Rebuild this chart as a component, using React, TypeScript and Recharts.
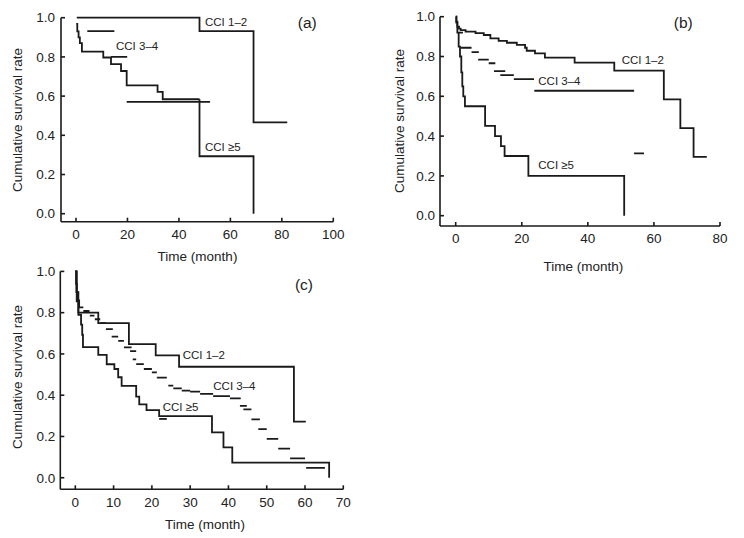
import React from 'react';
import { LineChart, Line, XAxis, YAxis } from 'recharts';

type Seg = [number, number, number];

// ---------- shared ticks ----------
const yTicks = [0, 0.2, 0.4, 0.6, 0.8, 1.0];
const xTicksA = [0, 20, 40, 60, 80, 100];
const xTicksB = [0, 20, 40, 60, 80];
const xTicksC = [0, 10, 20, 30, 40, 50, 60, 70];

// ---------- panel (a) ----------
const aCci12Time = [0.3, 48, 69, 82.1];
const aCci12Surv = [1.0, 0.932, 0.466, 0.466];
const aCci34Time = [0.1, 0.5, 1.0, 1.5, 2.3, 10.6, 13.6, 17.5, 19.7, 31.7, 33.7, 48];
const aCci34Surv = [0.968, 0.93, 0.9, 0.87, 0.827, 0.797, 0.763, 0.728, 0.655, 0.622, 0.584, 0.584];
const aCci5Time = [48, 48, 69];
const aCci5Surv = [0.584, 0.293, 0];
const aCci5Segs: Seg[] = [[4.4, 14.9, 0.932], [13.6, 19.9, 0.8], [19.7, 52.1, 0.571]];

// ---------- panel (b) ----------
const bCci12Time = [0, 0.2, 0.5, 1.0, 1.5, 3, 6, 8.5, 10.5, 13, 15.5, 18.5, 21, 21.5, 24, 27, 36, 48, 63, 68, 72, 76];
const bCci12Surv = [1.0, 0.97, 0.95, 0.94, 0.933, 0.925, 0.917, 0.908, 0.891, 0.879, 0.869, 0.858, 0.844, 0.829, 0.816, 0.794, 0.769, 0.729, 0.585, 0.44, 0.296, 0.296];
const bCci34Segs: Seg[] = [
  [1.0, 2.2, 0.92], [1.5, 4.8, 0.844], [4.8, 7.0, 0.822], [6.8, 10.0, 0.784], [10.0, 12.0, 0.766],
  [11.6, 15.0, 0.727], [13.5, 17.6, 0.706], [17.6, 23.7, 0.686], [23.8, 54, 0.628], [54, 57, 0.313],
];
const bCci5Time = [0, 0.2, 0.5, 0.9, 1.3, 1.7, 2.0, 2.3, 2.8, 8.9, 11.9, 13.7, 14.8, 22, 51];
const bCci5Surv = [1.0, 0.975, 0.92, 0.85, 0.8, 0.72, 0.65, 0.6, 0.55, 0.451, 0.4, 0.35, 0.3, 0.2, 0];

// ---------- panel (c) ----------
const cCci12Time = [0, 0.3, 0.8, 6, 14, 21, 27.1, 57.1, 60.2];
const cCci12Surv = [1.0, 0.9, 0.8, 0.749, 0.648, 0.593, 0.538, 0.272, 0.272];
const cCci34Time = [0, 0.2, 0.4, 0.7, 1.0, 2.1];
const cCci34Surv = [1.0, 0.94, 0.9, 0.86, 0.826, 0.826];
const cCci34Segs: Seg[] = [
  [2.1, 3.7, 0.808], [3.8, 5.0, 0.786], [5.1, 6.5, 0.768], [6.5, 8.0, 0.749], [8.0, 9.8, 0.72],
  [9.5, 11.2, 0.684], [11.2, 12.7, 0.663], [12.7, 14.7, 0.632], [14.3, 15.9, 0.614], [15.0, 15.9, 0.574],
  [15.9, 17.9, 0.551], [17.9, 20.0, 0.527], [20.0, 21.3, 0.511], [21.3, 23.9, 0.485], [24.3, 25.6, 0.446],
  [25.6, 27.8, 0.433], [27.8, 30.0, 0.422], [30.0, 32.6, 0.417], [32.6, 36.0, 0.406], [36.0, 40.4, 0.396],
  [40.4, 43.2, 0.385], [43.0, 44.8, 0.348], [43.9, 46.0, 0.331], [46.0, 48.2, 0.283], [47.8, 50.0, 0.236],
  [50.0, 53.0, 0.188], [53.0, 56.1, 0.141], [56.1, 60.0, 0.094], [60.3, 65.2, 0.048],
];
const cCci5Time = [0, 0.37, 0.8, 1.5, 1.8, 2.0, 6, 8.2, 10.2, 11.2, 12.1, 15.9, 16.7, 18.6, 21.9, 35.7, 38.7, 41, 66.3];
const cCci5Surv = [1.0, 0.855, 0.79, 0.742, 0.693, 0.633, 0.595, 0.55, 0.527, 0.487, 0.445, 0.393, 0.356, 0.328, 0.299, 0.22, 0.147, 0.073, 0];
const cCci5Segs: Seg[] = [[21.9, 23.9, 0.285]];

// ---------- helpers ----------
const steps = (ts: number[], vs: number[]) => ts.map((t, i) => ({ t, v: vs[i] }));
const segs = (s: Seg[]) =>
  s.flatMap(([a, b, v]) => [{ t: a, v }, { t: b, v }, { t: b, v: null as number | null }]);

const INK = '#1a1a1a';
const FONT = '"Liberation Sans", Arial, Helvetica, sans-serif';

type PanelProps = {
  width: number;
  height: number;
  top: number;
  right: number;
  yAxisW: number;
  xAxisH: number;
  xDomain: [number, number];
  yMin: number;
  xTicks: number[];
  xTickMargin: number;
  yTickMargin: number;
  stepSeries: { t: number; v: number | null }[][];
  segSeries: { t: number; v: number | null }[][];
};

function Panel(p: PanelProps) {
  const tickStyle = { fill: '#222', fontSize: 13.5, fontFamily: FONT };
  const axisLine = { stroke: INK, strokeWidth: 1.6 };
  return (
    <LineChart width={p.width} height={p.height} margin={{ top: p.top, right: p.right, bottom: 0, left: 0 }}>
      <XAxis
        type="number"
        dataKey="t"
        domain={p.xDomain}
        ticks={p.xTicks}
        interval={0}
        height={p.xAxisH}
        tickSize={-4}
        tickMargin={p.xTickMargin}
        axisLine={axisLine}
        tickLine={axisLine}
        tick={tickStyle}
      />
      <YAxis
        type="number"
        dataKey="v"
        domain={[p.yMin, 1]}
        ticks={yTicks}
        interval={0}
        width={p.yAxisW}
        tickSize={-4}
        tickMargin={p.yTickMargin}
        axisLine={axisLine}
        tickLine={axisLine}
        tick={tickStyle}
        tickFormatter={(v: number) => v.toFixed(1)}
      />
      {p.stepSeries.map((d, i) => (
        <Line
          key={'s' + i}
          data={d}
          dataKey="v"
          type="stepAfter"
          stroke={INK}
          strokeWidth={1.8}
          dot={false}
          activeDot={false}
          isAnimationActive={false}
        />
      ))}
      {p.segSeries.map((d, i) => (
        <Line
          key={'g' + i}
          data={d}
          dataKey="v"
          type="linear"
          connectNulls={false}
          stroke={INK}
          strokeWidth={1.8}
          dot={false}
          activeDot={false}
          isAnimationActive={false}
        />
      ))}
    </LineChart>
  );
}

function Txt({ x, y, size, children, center }: { x: number; y: number; size: number; children: React.ReactNode; center?: boolean }) {
  return (
    <div
      style={{
        position: 'absolute',
        left: x,
        top: y,
        transform: center ? 'translate(-50%, -50%)' : 'translateY(-50%)',
        fontSize: size,
        lineHeight: 1,
        whiteSpace: 'nowrap',
        color: '#222',
      }}
    >
      {children}
    </div>
  );
}

function VTxt({ x, y, size, children }: { x: number; y: number; size: number; children: React.ReactNode }) {
  return (
    <div
      style={{
        position: 'absolute',
        left: x,
        top: y,
        transform: 'translate(-50%, -50%) rotate(-90deg)',
        fontSize: size,
        lineHeight: 1,
        whiteSpace: 'nowrap',
        color: '#222',
      }}
    >
      {children}
    </div>
  );
}

export default function App() {
  return (
    <div
      style={{
        position: 'absolute',
        left: 0,
        top: 0,
        width: 744,
        height: 538,
        background: '#fff',
        fontFamily: FONT,
        overflow: 'hidden',
      }}
    >
      <div style={{ position: 'absolute', left: 0, top: 0 }}>
        <Panel
          width={370}
          height={280}
          top={17.7}
          right={36.7}
          yAxisW={61}
          xAxisH={58.3}
          xDomain={[-5.83, 100]}
          yMin={-0.0408}
          xTicks={xTicksA}
          xTickMargin={12}
          yTickMargin={10}
          stepSeries={[steps(aCci12Time, aCci12Surv), steps(aCci34Time, aCci34Surv), steps(aCci5Time, aCci5Surv)]}
          segSeries={[segs(aCci5Segs)]}
        />
      </div>
      <div style={{ position: 'absolute', left: 370, top: 0 }}>
        <Panel
          width={374}
          height={280}
          top={16.7}
          right={24}
          yAxisW={70}
          xAxisH={54}
          xDomain={[-4.75, 80]}
          yMin={-0.0518}
          xTicks={xTicksB}
          xTickMargin={11}
          yTickMargin={9}
          stepSeries={[steps(bCci12Time, bCci12Surv), steps(bCci5Time, bCci5Surv)]}
          segSeries={[segs(bCci34Segs)]}
        />
      </div>
      <div style={{ position: 'absolute', left: 0, top: 260 }}>
        <Panel
          width={370}
          height={278}
          top={11.4}
          right={26.7}
          yAxisW={60.3}
          xAxisH={48.7}
          xDomain={[-3.92, 70]}
          yMin={-0.056}
          xTicks={xTicksC}
          xTickMargin={12.5}
          yTickMargin={9}
          stepSeries={[steps(cCci12Time, cCci12Surv), steps(cCci34Time, cCci34Surv), steps(cCci5Time, cCci5Surv)]}
          segSeries={[segs(cCci34Segs), segs(cCci5Segs)]}
        />
      </div>

      {/* panel (a) annotations */}
      <Txt x={205} y={23.3} size={11.5}>CCI 1–2</Txt>
      <Txt x={116} y={47.3} size={11.5}>CCI 3–4</Txt>
      <Txt x={205} y={148.3} size={11.5}>CCI ≥5</Txt>
      <Txt x={307.3} y={23.3} size={15.5} center>(a)</Txt>
      <Txt x={197.5} y={256.7} size={13.5} center>Time (month)</Txt>
      <VTxt x={18.3} y={120} size={13.5}>Cumulative survival rate</VTxt>

      {/* panel (b) annotations */}
      <Txt x={621.7} y={61} size={11.5}>CCI 1–2</Txt>
      <Txt x={538.3} y={81.7} size={11.5}>CCI 3–4</Txt>
      <Txt x={538.3} y={165.7} size={11.5}>CCI ≥5</Txt>
      <Txt x={683.3} y={23.3} size={15.5} center>(b)</Txt>
      <Txt x={583.3} y={266.7} size={13.5} center>Time (month)</Txt>
      <VTxt x={400} y={120.7} size={13.5}>Cumulative survival rate</VTxt>

      {/* panel (c) annotations */}
      <Txt x={182.7} y={356} size={11.5}>CCI 1–2</Txt>
      <Txt x={213.3} y={386.7} size={11.5}>CCI 3–4</Txt>
      <Txt x={162.7} y={408.3} size={11.5}>CCI ≥5</Txt>
      <Txt x={304} y={285} size={15.5} center>(c)</Txt>
      <Txt x={205} y={525} size={13.5} center>Time (month)</Txt>
      <VTxt x={18.3} y={376.7} size={13.5}>Cumulative survival rate</VTxt>
    </div>
  );
}
